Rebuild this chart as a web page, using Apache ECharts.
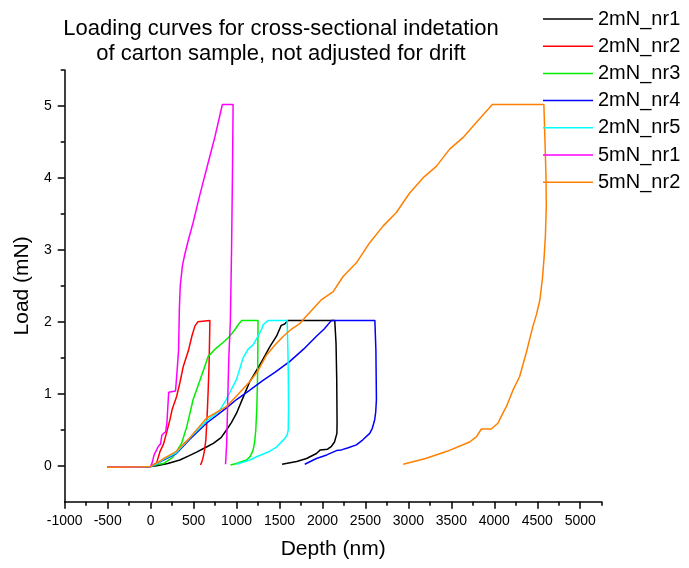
<!DOCTYPE html>
<html><head><meta charset="utf-8">
<script src="https://cdn.jsdelivr.net/npm/echarts@6/dist/echarts.min.js"></script>
<style>html,body{margin:0;padding:0;background:#fff}#c{width:689px;height:568px}</style>
</head><body><div id="c"></div>
<script>
const seriesNames = ['2mN_nr1','2mN_nr2','2mN_nr3','2mN_nr4','2mN_nr5','5mN_nr1','5mN_nr2'];
const xMajorTicks = [-1000,-500,0,500,1000,1500,2000,2500,3000,3500,4000,4500,5000];
const xMinorTicks = [-750,-250,250,750,1250,1750,2250,2750,3250,3750,4250,4750,5250];
const yMajorTicks = [0,1,2,3,4,5];
const yMinorTicks = [0.5,1.5,2.5,3.5,4.5,5.5];

const nr1_2mN = [[-500,-0.02],[-300,-0.02],[-100,-0.015],[0,-0.01],[70,0],[200,0.03],[340,0.08],[450,0.14],[535,0.19],[650,0.26],[730,0.31],[820,0.39],[885,0.5],[940,0.6],[1000,0.73],[1080,0.96],[1155,1.17],[1270,1.4],[1390,1.66],[1465,1.8],[1520,1.95],[1560,1.97],[1600,2.02],[2143,2.02],[2158,1.7],[2166,1.2],[2170,0.6],[2168,0.45],[2140,0.33],[2105,0.27],[2060,0.23],[1975,0.22],[1930,0.17],[1815,0.1],[1700,0.06],[1530,0.02]];
const nr2_2mN = [[-500,-0.02],[-100,-0.015],[0,-0.01],[30,0.01],[70,0.04],[110,0.2],[150,0.3],[190,0.48],[225,0.64],[250,0.78],[300,0.95],[340,1.15],[380,1.38],[440,1.6],[480,1.8],[515,1.94],[550,2.0],[560,2.02],[690,2.02],[686,1.75],[680,1.4],[670,1.05],[658,0.7],[643,0.36],[625,0.2],[612,0.12],[595,0.05],[580,0.01]];
const nr3_2mN = [[-500,-0.02],[-100,-0.015],[0,-0.01],[50,0.01],[150,0.03],[260,0.12],[360,0.31],[420,0.54],[495,0.92],[575,1.19],[630,1.38],[670,1.52],[750,1.62],[860,1.73],[920,1.8],[980,1.89],[1020,1.96],[1060,2.02],[1250,2.02],[1248,1.6],[1244,1.19],[1236,0.8],[1224,0.5],[1210,0.32],[1193,0.22],[1160,0.13],[1116,0.08],[1000,0.03],[930,0.01]];
const nr4_2mN = [[-500,-0.02],[-100,-0.015],[0,-0.01],[60,0.02],[150,0.08],[300,0.17],[450,0.36],[650,0.59],[880,0.8],[1000,0.92],[1155,1.05],[1300,1.18],[1450,1.3],[1620,1.45],[1780,1.62],[1930,1.8],[2020,1.9],[2105,2.02],[2610,2.02],[2622,1.6],[2628,0.92],[2620,0.75],[2608,0.64],[2580,0.52],[2550,0.45],[2470,0.36],[2395,0.29],[2300,0.25],[2221,0.22],[2163,0.21],[2050,0.15],[1930,0.1],[1794,0.02]];
const nr5_2mN = [[-500,-0.02],[-100,-0.015],[0,-0.01],[60,0.02],[150,0.09],[300,0.18],[450,0.38],[650,0.62],[800,0.76],[880,0.92],[1000,1.2],[1077,1.5],[1135,1.62],[1193,1.68],[1250,1.8],[1290,1.89],[1310,1.96],[1368,2.02],[1589,2.02],[1598,1.6],[1603,1.2],[1605,0.8],[1602,0.5],[1590,0.43],[1562,0.38],[1465,0.26],[1368,0.19],[1233,0.125],[1155,0.08],[1000,0.02]];
const nr1_5mN = [[-500,-0.02],[-100,-0.015],[0,-0.01],[20,0.05],[40,0.15],[70,0.22],[90,0.27],[115,0.3],[130,0.42],[150,0.45],[175,0.47],[190,0.6],[210,1.02],[290,1.04],[310,1.35],[325,1.6],[335,2.2],[345,2.5],[370,2.78],[400,2.95],[440,3.14],[495,3.38],[570,3.75],[650,4.12],[750,4.58],[835,5.02],[960,5.02],[952,4.0],[942,3.0],[928,2.0],[910,1.5],[895,0.8],[885,0.3],[872,0.02]];
const nr2_5mN = [[-500,-0.02],[-100,-0.015],[0,-0.01],[60,0.03],[150,0.1],[300,0.2],[450,0.38],[650,0.66],[880,0.82],[1000,0.97],[1155,1.17],[1250,1.32],[1350,1.54],[1450,1.68],[1545,1.8],[1640,1.9],[1740,1.98],[1790,2.05],[1990,2.31],[2125,2.42],[2240,2.63],[2395,2.82],[2550,3.1],[2705,3.33],[2860,3.52],[3015,3.79],[3170,4.0],[3325,4.16],[3480,4.4],[3635,4.56],[3790,4.77],[3977,5.02],[4577,5.02],[4590,4.5],[4602,4.0],[4605,3.6],[4595,3.2],[4580,2.9],[4560,2.6],[4530,2.3],[4490,2.1],[4450,1.94],[4372,1.57],[4295,1.24],[4217,1.05],[4140,0.82],[4100,0.73],[4042,0.59],[3965,0.51],[3850,0.51],[3790,0.4],[3712,0.33],[3450,0.2],[3200,0.1],[2940,0.02]];

const allData = [nr1_2mN, nr2_2mN, nr3_2mN, nr4_2mN, nr5_2mN, nr1_5mN, nr2_5mN];
const colors = ['#000000','#ff0000','#00ee00','#0000ff','#00ffff','#ff00ff','#ff8000'];

const chart = echarts.init(document.getElementById('c'), null, {renderer:'canvas'});
const font = 'Liberation Sans, Arial, sans-serif';
const plain = v => String(v);
const axisBase = {
  type:'value', min:-1000, max:5250, splitLine:{show:false}
};
chart.setOption({
  animation:false,
  backgroundColor:'#fff',
  title:{
    text:'Loading curves for cross-sectional indetation\nof carton sample, not adjusted for drift',
    left:276, top:11, textAlign:'center',
    textStyle:{fontFamily:font, fontSize:22, fontWeight:'normal', color:'#000', lineHeight:25}
  },
  legend:{
    orient:'vertical', left:538, top:4, itemWidth:50, itemHeight:12, itemGap:7.2,
    icon:'path://M0,0 L50,0 L50,1.5 L0,1.5 Z',
    textStyle:{fontFamily:font, fontSize:20, color:'#000', lineHeight:20},
    data: seriesNames
  },
  grid:{left:64.7, right:87.3, top:70, bottom:66.3},
  xAxis:[
    Object.assign({}, axisBase, {
      name:'Depth (nm)', nameLocation:'middle', nameGap:37,
      nameTextStyle:{fontFamily:font, fontSize:21, color:'#000'},
      axisLine:{show:true, onZero:false, lineStyle:{color:'#000', width:1.5}},
      axisTick:{show:true, inside:false, length:7, customValues:xMajorTicks, lineStyle:{color:'#000', width:1.5}},
      axisLabel:{show:true, margin:12, customValues:xMajorTicks, formatter:plain, fontFamily:font, fontSize:14, color:'#000'}
    }),
    Object.assign({}, axisBase, {
      position:'bottom', offset:0,
      axisLine:{show:false, onZero:false},
      axisTick:{show:true, length:4, customValues:xMinorTicks, lineStyle:{color:'#000', width:1.5}},
      axisLabel:{show:false}
    })
  ],
  yAxis:[
    {
      type:'value', min:-0.5, max:5.5, splitLine:{show:false},
      name:'Load (mN)', nameLocation:'middle', nameGap:26,
      nameTextStyle:{fontFamily:font, fontSize:21, color:'#000'},
      axisLine:{show:true, onZero:false, lineStyle:{color:'#000', width:1.5}},
      axisTick:{show:true, length:7, customValues:yMajorTicks, lineStyle:{color:'#000', width:1.5}},
      axisLabel:{show:true, margin:13, customValues:yMajorTicks, formatter:plain, fontFamily:font, fontSize:14, color:'#000'}
    },
    {
      type:'value', min:-0.5, max:5.5, splitLine:{show:false}, position:'left', offset:0,
      axisLine:{show:false, onZero:false},
      axisTick:{show:true, length:4, customValues:yMinorTicks, lineStyle:{color:'#000', width:1.5}},
      axisLabel:{show:false}
    }
  ],
  series: seriesNames.map((n,i)=>({
    name:n, type:'line', xAxisIndex:0, yAxisIndex:0,
    data: allData[i], symbol:'none', showSymbol:false, smooth:false,
    lineStyle:{color:colors[i], width:1.5}, itemStyle:{color:colors[i]}
  }))
});
</script></body></html>
